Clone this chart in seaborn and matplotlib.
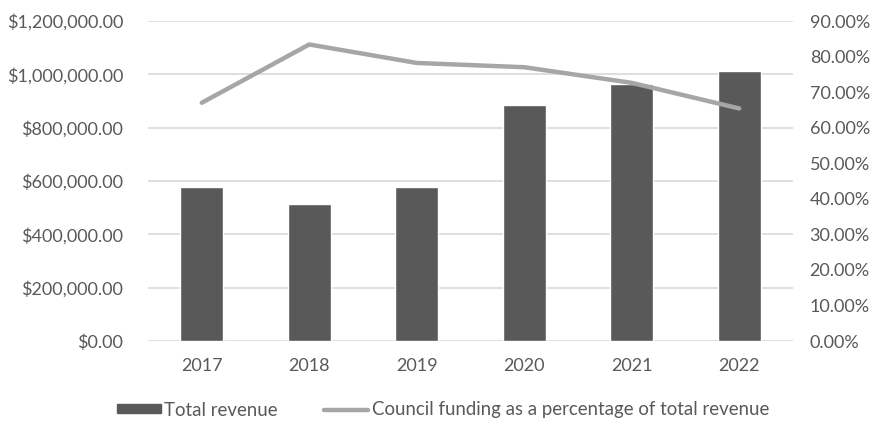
import matplotlib
matplotlib.use("Agg")
import matplotlib.pyplot as plt
import matplotlib.ticker as mticker
from matplotlib.patches import Patch
from matplotlib.lines import Line2D
import seaborn as sns
import pandas as pd

years = ["2017", "2018", "2019", "2020", "2021", "2022"]
total_revenue = [578000, 515000, 578000, 884000, 964000, 1013000]
council_pct = [67.0, 83.4, 78.2, 77.0, 72.6, 65.4]

bar_label = "Total revenue"
line_label = "Council funding as a percentage of total revenue"

bar_color = "#595959"
line_color = "#A6A6A6"
text_color = "#595959"
grid_color = "#D9D9D9"

sns.set_theme(style="white")
plt.rcParams["font.family"] = ["Lato", "DejaVu Sans"]

df = pd.DataFrame({"year": years, "revenue": total_revenue, "pct": council_pct})

fig = plt.figure(figsize=(8.72, 4.21), dpi=100)
ax = fig.add_axes([148 / 872, 1 - 341 / 421, (793 - 148) / 872, (341 - 21) / 421])

sns.barplot(data=df, x="year", y="revenue", color=bar_color, width=0.4,
            saturation=1, ax=ax, zorder=3)
ax.set_ylim(0, 1200000)
ax.set_xlim(-0.5, len(years) - 0.5)
ax.yaxis.set_major_locator(mticker.MultipleLocator(200000))
ax.yaxis.set_major_formatter(mticker.FuncFormatter(lambda v, p: f"${v:,.2f}"))
ax.grid(axis="y", color=grid_color, linewidth=1.2, zorder=0)
ax.set_axisbelow(True)
for s in ax.spines.values():
    s.set_visible(False)
ax.set_xlabel("")
ax.set_ylabel("")
ax.tick_params(axis="y", length=0, pad=18, labelsize=13, labelcolor=text_color)
ax.tick_params(axis="x", length=0, pad=12, labelsize=13, labelcolor=text_color)

ax2 = ax.twinx()
sns.lineplot(x=list(range(len(years))), y=council_pct, color=line_color,
             linewidth=3.2, ax=ax2, zorder=4)
ax2.set_ylim(0, 90)
ax2.yaxis.set_major_locator(mticker.MultipleLocator(10))
ax2.yaxis.set_major_formatter(mticker.FuncFormatter(lambda v, p: f"{v:.2f}%"))
for s in ax2.spines.values():
    s.set_visible(False)
ax2.set_ylabel("")
ax2.tick_params(axis="y", length=0, pad=12, labelsize=13, labelcolor=text_color)
ax2.set_xlim(-0.5, len(years) - 0.5)

handles = [
    Patch(facecolor=bar_color, edgecolor=bar_color),
    Line2D([0], [0], color=line_color, linewidth=3.2),
]
fig.legend(handles, [bar_label, line_label], loc="center",
           bbox_to_anchor=(443 / 872, 1 - 410 / 421), ncol=2, frameon=False,
           fontsize=13.4, labelcolor=text_color, handlelength=2.35,
           handleheight=0.38, handletextpad=0.2, columnspacing=2.5)

fig.savefig("out.png", dpi=100)
